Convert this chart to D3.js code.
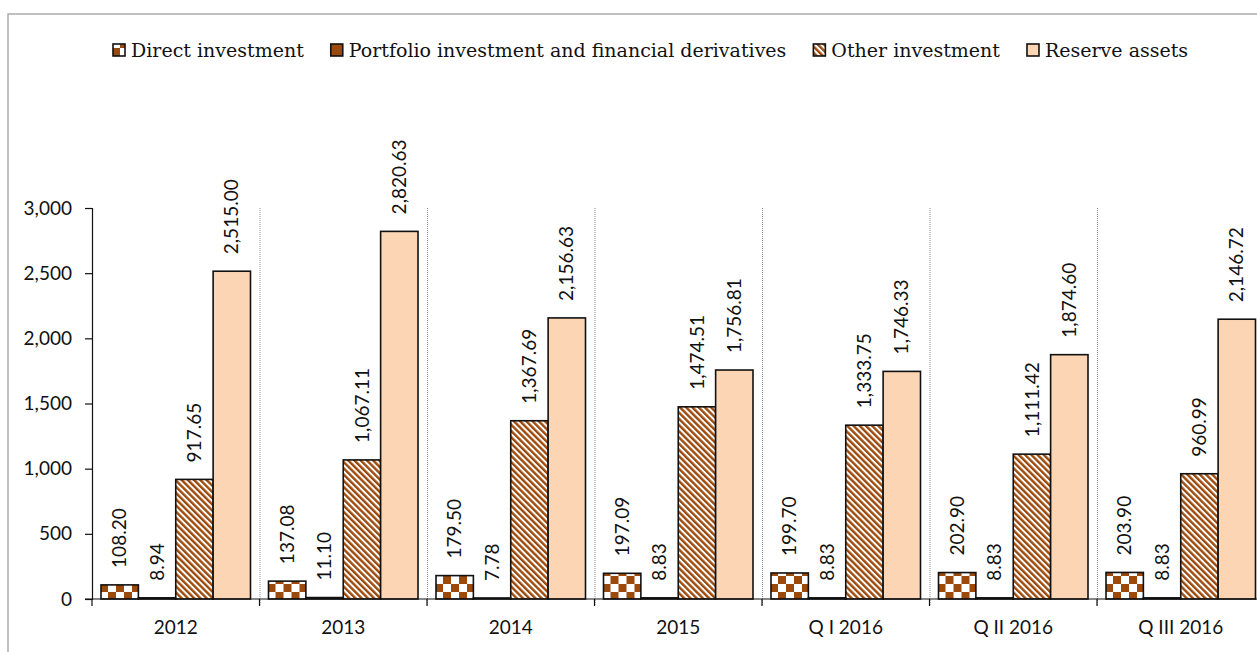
<!DOCTYPE html>
<html lang="en">
  <head>
    <meta charset="UTF-8" />
    <title>Foreign assets by component</title>
    <script src="https://d3js.org/d3.v7.min.js"></script>
    <style>
      body {
        margin: 0;
        padding: 0;
        background: #fff;
      }
      svg {
        display: block;
      }
      .legend text {
        font-family: "DejaVu Serif", serif;
        font-size: 19px;
        fill: #111;
      }
      .axis text,
      .value-label {
        font-family: Lato, "Open Sans", sans-serif;
        font-size: 19px;
        fill: #111;
      }
    </style>
  </head>
  <body>
    <script>
      // Chart data
      const categories = ["2012", "2013", "2014", "2015", "Q I 2016", "Q II 2016", "Q III 2016"];
      const seriesNames = [
        "Direct investment",
        "Portfolio investment and financial derivatives",
        "Other investment",
        "Reserve assets"
      ];
      const directInvestment = [108.20, 137.08, 179.50, 197.09, 199.70, 202.90, 203.90];
      const portfolioInvestment = [8.94, 11.10, 7.78, 8.83, 8.83, 8.83, 8.83];
      const otherInvestment = [917.65, 1067.11, 1367.69, 1474.51, 1333.75, 1111.42, 960.99];
      const reserveAssets = [2515.00, 2820.63, 2156.63, 1756.81, 1746.33, 1874.60, 2146.72];
      const yTicks = [0, 500, 1000, 1500, 2000, 2500, 3000];

      const seriesValues = [directInvestment, portfolioInvestment, otherInvestment, reserveAssets];

      const width = 1257,
            height = 652;
      const margin = { top: 208, left: 92, bottom: 53 };
      const bandStep = 167.5;
      const brown = "#9c4a0c";
      const peach = "#fcd5b5";

      const svg = d3.select("body")
                    .append("svg")
                    .attr("width", width)
                    .attr("height", height);

      // Fill patterns (checkerboard, solid, diagonal stripes, solid peach)
      const defs = svg.append("defs");
      const checker = defs.append("pattern")
                          .attr("id", "checker")
                          .attr("patternUnits", "userSpaceOnUse")
                          .attr("width", 16)
                          .attr("height", 16);
      checker.append("rect").attr("width", 16).attr("height", 16).attr("fill", "#fff");
      checker.append("rect").attr("width", 8).attr("height", 8).attr("fill", brown);
      checker.append("rect").attr("x", 8).attr("y", 8).attr("width", 8).attr("height", 8).attr("fill", brown);

      const stripes = defs.append("pattern")
                          .attr("id", "stripes")
                          .attr("patternUnits", "userSpaceOnUse")
                          .attr("width", 4.4)
                          .attr("height", 10)
                          .attr("patternTransform", "rotate(-45)");
      stripes.append("rect").attr("width", 4.4).attr("height", 10).attr("fill", "#fff");
      stripes.append("rect").attr("width", 2.4).attr("height", 10).attr("fill", brown);

      const fills = ["url(#checker)", brown, "url(#stripes)", peach];

      // Scales
      const x0 = d3.scaleBand()
                   .domain(categories)
                   .range([margin.left, margin.left + bandStep * categories.length])
                   .padding(0);
      const x1 = d3.scaleBand()
                   .domain(seriesNames)
                   .range([9, bandStep - 9])
                   .padding(0);
      const y = d3.scaleLinear()
                  .domain([0, 3000])
                  .range([height - margin.bottom, margin.top]);

      // Outer border of the chart area
      svg.append("rect")
         .attr("x", 8)
         .attr("y", 14)
         .attr("width", width + 20)
         .attr("height", height + 20)
         .attr("fill", "none")
         .attr("stroke", "#a6a6a6")
         .attr("stroke-width", 1.4);

      // Dotted category separators
      svg.append("g")
         .selectAll("line")
         .data(categories.slice(1))
         .join("line")
         .attr("x1", d => x0(d) + 0.5)
         .attr("x2", d => x0(d) + 0.5)
         .attr("y1", y(3000))
         .attr("y2", y(0) + 6)
         .attr("stroke", "#8a8a8a")
         .attr("stroke-width", 1)
         .attr("stroke-dasharray", "1,1");

      // Bars
      const groups = svg.append("g")
                        .selectAll("g")
                        .data(categories)
                        .join("g")
                        .attr("transform", d => `translate(${x0(d)},0)`);

      groups.selectAll("rect")
            .data((c, i) => seriesNames.map((s, j) => ({ series: s, idx: j, value: seriesValues[j][i] })))
            .join("rect")
            .attr("x", d => x1(d.series))
            .attr("width", x1.bandwidth())
            .attr("y", d => y(d.value))
            .attr("height", d => y(0) - y(d.value))
            .attr("fill", d => fills[d.idx])
            .attr("stroke", "#111")
            .attr("stroke-width", 1.6);

      // Rotated value labels above each bar
      const fmt = d3.format(",.2f");
      groups.selectAll("text")
            .data((c, i) => seriesNames.map((s, j) => ({ series: s, value: seriesValues[j][i] })))
            .join("text")
            .attr("class", "value-label")
            .attr("transform", d => `translate(${x1(d.series) + x1.bandwidth() / 2},${y(d.value) - 17}) rotate(-90)`)
            .attr("dy", "0.35em")
            .attr("text-anchor", "start")
            .text(d => fmt(d.value));

      // Y axis
      const yAxis = svg.append("g")
                       .attr("class", "axis")
                       .attr("transform", `translate(${margin.left},0)`)
                       .call(d3.axisLeft(y).tickValues(yTicks).tickFormat(d3.format(",")).tickSize(7).tickPadding(13));
      yAxis.selectAll("line, path").attr("stroke", "#111").attr("stroke-width", 1.2);

      // X axis: ticks at band boundaries, labels centered
      const xAxisG = svg.append("g")
                        .attr("class", "axis")
                        .attr("transform", `translate(0,${y(0)})`);
      xAxisG.append("line")
            .attr("x1", margin.left - 7)
            .attr("x2", width + 10)
            .attr("stroke", "#111")
            .attr("stroke-width", 1.2);
      xAxisG.selectAll(".tick-mark")
            .data(categories)
            .join("line")
            .attr("class", "tick-mark")
            .attr("x1", d => x0(d))
            .attr("x2", d => x0(d))
            .attr("y1", 0)
            .attr("y2", 7)
            .attr("stroke", "#111")
            .attr("stroke-width", 1.2);
      xAxisG.selectAll("text")
            .data(categories)
            .join("text")
            .attr("x", d => x0(d) + x0.bandwidth() / 2)
            .attr("y", 35)
            .attr("text-anchor", "middle")
            .text(d => d);

      // Legend
      const legend = svg.append("g").attr("class", "legend");
      let lx = 113;
      seriesNames.forEach((name, i) => {
        legend.append("rect")
              .attr("x", lx)
              .attr("y", 44)
              .attr("width", 12)
              .attr("height", 12)
              .attr("fill", fills[i])
              .attr("stroke", "#111")
              .attr("stroke-width", 1.6);
        const t = legend.append("text")
                        .attr("x", lx + 18)
                        .attr("y", 57)
                        .text(name);
        lx += 18 + t.node().getComputedTextLength() + 27;
      });
    </script>
  </body>
</html>
